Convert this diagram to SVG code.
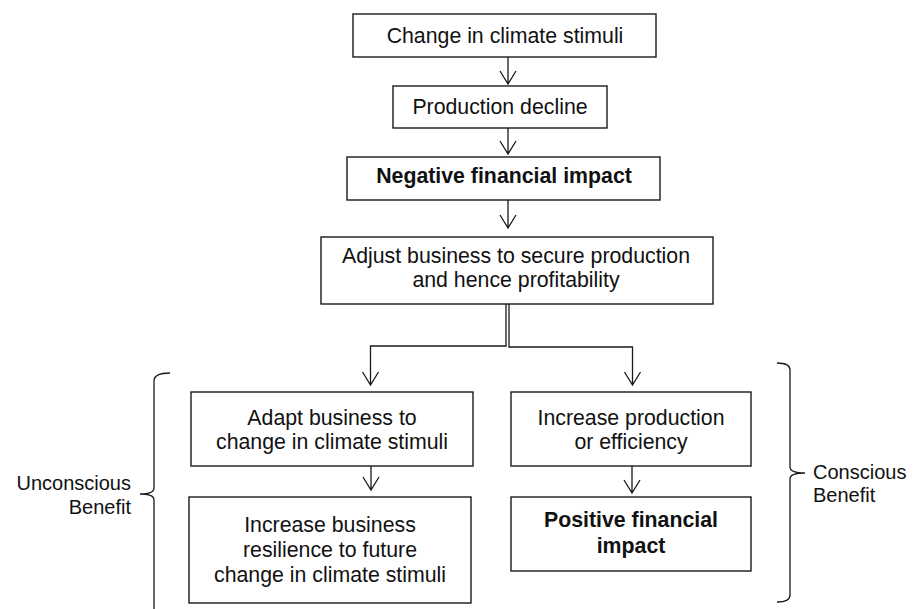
<svg xmlns="http://www.w3.org/2000/svg" width="913" height="609" viewBox="0 0 913 609">
<defs>
<style>
.box{fill:#fff;stroke:#1a1a1a;stroke-width:1.4}
.t{font-family:"Liberation Sans",Arial,sans-serif;font-size:21.3px;fill:#111;text-anchor:middle}
.b{font-weight:bold}
.ln{fill:none;stroke:#1a1a1a;stroke-width:1.3}
.lbl{font-family:"Liberation Sans",Arial,sans-serif;font-size:20px;fill:#111}
</style>
</defs>
<rect width="913" height="609" fill="#fff"/>
<g id="connectors" class="ln">
<path d="M508,57 V84 M500,71 L508,84 L516,71"/>
<path d="M508,128 V154 M500,141 L508,154 L516,141"/>
<path d="M508,200 V228 M500,215 L508,228 L516,215"/>
<path d="M506,304 V346 H370.5 V385 M362.5,372 L370.5,385 L378.5,372"/>
<path d="M509,304 V347 H632.5 V385 M624.5,372 L632.5,385 L640.5,372"/>
<path d="M371,466 V490 M363,477 L371,490 L379,477"/>
<path d="M632,466 V493 M624,480 L632,493 L640,480"/>
</g>
<g id="n1"><rect class="box" x="353" y="14" width="303" height="43"/><text class="t" x="505" y="43">Change in climate stimuli</text></g>
<g id="n2"><rect class="box" x="393" y="86" width="214" height="42"/><text class="t" x="500" y="114">Production decline</text></g>
<g id="n3"><rect class="box" x="347" y="157" width="313" height="43"/><text class="t b" x="504" y="183">Negative financial impact</text></g>
<g id="n4"><rect class="box" x="321" y="237" width="392" height="67"/><text class="t" x="516" y="263">Adjust business to secure production</text><text class="t" x="516" y="287">and hence profitability</text></g>
<g id="n5"><rect class="box" x="191" y="392" width="282" height="74"/><text class="t" x="332" y="425">Adapt business to</text><text class="t" x="332" y="449">change in climate stimuli</text></g>
<g id="n6"><rect class="box" x="511" y="392" width="240" height="74"/><text class="t" x="631" y="425">Increase production</text><text class="t" x="631" y="449">or efficiency</text></g>
<g id="n7"><rect class="box" x="189" y="497" width="282" height="106"/><text class="t" x="330" y="532">Increase business</text><text class="t" x="330" y="557">resilience to future</text><text class="t" x="330" y="582">change in climate stimuli</text></g>
<g id="n8"><rect class="box" x="511" y="497" width="240" height="74"/><text class="t b" x="631" y="527">Positive financial</text><text class="t b" x="631" y="553">impact</text></g>
<g id="brace-left">
<path class="ln" d="M170,373 Q154,373 154,381 V488 Q154,494 140,494 Q154,494 154,500 V612"/>
<text class="lbl" x="131" y="490" text-anchor="end">Unconscious</text>
<text class="lbl" x="131" y="514" text-anchor="end">Benefit</text>
</g>
<g id="brace-right">
<path class="ln" d="M777,363 Q790,363 790,370 V467 Q790,473 805,473 Q790,473 790,479 V595 Q790,602 777,602"/>
<text class="lbl" x="813" y="479">Conscious</text>
<text class="lbl" x="813" y="502">Benefit</text>
</g>
</svg>
